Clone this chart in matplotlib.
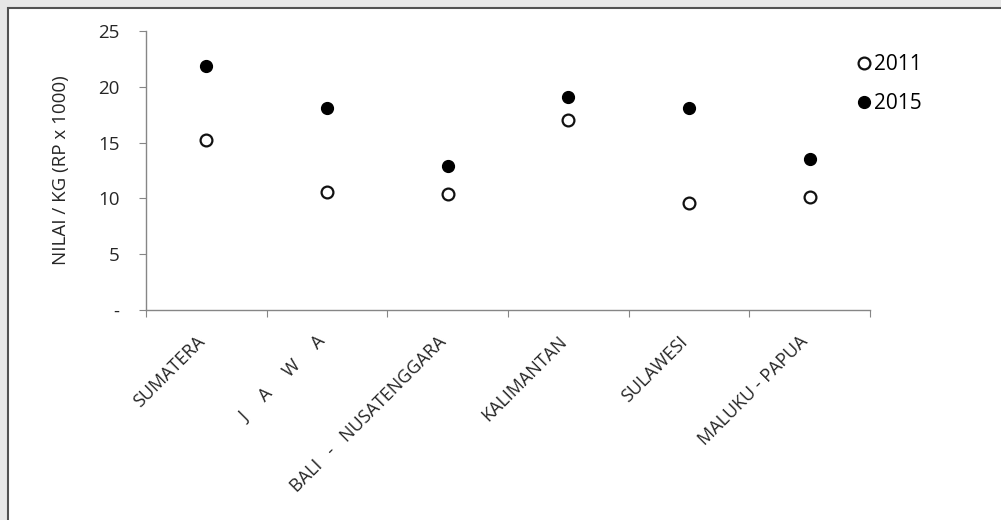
import numpy as np
import matplotlib
matplotlib.use('Agg')
import matplotlib.pyplot as plt
from matplotlib.patches import Rectangle

regions = ['SUMATERA', 'J     A     W     A', 'BALI   -   NUSATENGGARA', 'KALIMANTAN',
           'SULAWESI', 'MALUKU - PAPUA']
nilai_2011 = [15.2, 10.6, 10.4, 17.0, 9.6, 10.1]
nilai_2015 = [21.9, 18.1, 12.9, 19.1, 18.1, 13.5]
y_ticks = [0, 5, 10, 15, 20, 25]
y_tick_labels = ['-', '5', '10', '15', '20', '25']

plt.rcParams['font.family'] = ['Open Sans', 'DejaVu Sans']
txt_color = '#262626'

fig = plt.figure(figsize=(10.01, 5.20), dpi=100)
fig.patch.set_facecolor('#e6e6e6')
# white chart area with dark frame on the left and top
frame = Rectangle((8 / 1001, -0.1), 1.2, 1 - 8 / 520 + 0.1,
                  transform=fig.transFigure, facecolor='white',
                  edgecolor='#505050', lw=1.5, zorder=-10)
fig.add_artist(frame)

ax = fig.add_axes([146 / 1001, 1 - 310 / 520, (870 - 146) / 1001, (310 - 31) / 520])
ax.set_facecolor('none')

x = np.arange(len(regions)) + 0.5
ax.plot(x, nilai_2011, 'o', ms=8.5, mfc='white', mec='#111111', mew=1.6, label='2011')
ax.plot(x, nilai_2015, 'o', ms=8.5, mfc='black', mec='black', label='2015')

ax.set_xlim(0, len(regions))
ax.set_ylim(0, 25)
ax.set_yticks(y_ticks)
ax.set_yticklabels(y_tick_labels, fontsize=13.5, color=txt_color)
ax.set_xticks(np.arange(len(regions) + 1))
ax.set_xticklabels([])
ax.tick_params(axis='both', which='major', length=5, color='#868686', direction='out')
ax.tick_params(axis='y', pad=14)

# category labels, rotated like Excel
for xi, name in zip(x, regions):
    ax.annotate(name, xy=(xi, 0), xycoords=('data', 'axes fraction'),
                xytext=(-3, -21), textcoords='offset points',
                rotation=45, ha='right', va='center', rotation_mode='anchor',
                fontsize=13, color=txt_color)

for s in ['top', 'right']:
    ax.spines[s].set_visible(False)
for s in ['left', 'bottom']:
    ax.spines[s].set_color('#868686')
    ax.spines[s].set_linewidth(1.0)

ax.set_ylabel('NILAI / KG (RP x 1000)', fontsize=13.5, color=txt_color, labelpad=20)

ax.legend(loc='upper left', bbox_to_anchor=(843 / 1001, 1 - 44 / 520),
          bbox_transform=fig.transFigure, frameon=False, fontsize=15,
          handletextpad=0.0, handlelength=1.0, labelspacing=0.85, borderpad=0)

fig.savefig('out.png', dpi=100, facecolor=fig.get_facecolor())
